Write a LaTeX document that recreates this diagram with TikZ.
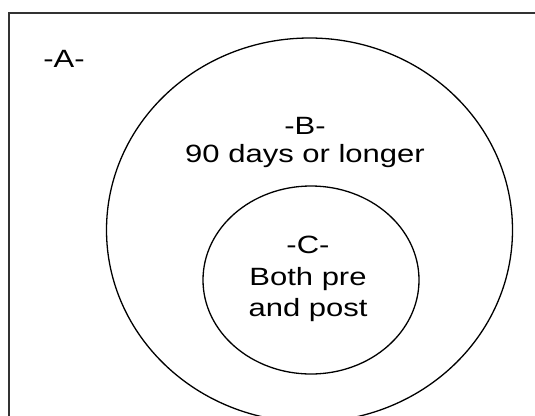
\documentclass[tikz,border=0pt]{standalone}
\usepackage{fontspec}
\setmainfont{Liberation Sans}
\usetikzlibrary{shapes}
\usetikzlibrary{positioning}

\begin{document}
\begin{tikzpicture}[x=1pt,y=-1pt,
  setline/.style={draw=black, line width=1.3pt},
  setlabel/.style={xscale=1.24, align=center, inner sep=0pt}]
\useasboundingbox (0,0) rectangle (535,415);
\clip (0,0) rectangle (535,415);
\draw[draw=black!80, line width=1.6pt] (8.7,12.7) rectangle (560,440);
\node[ellipse, setline, minimum width=406, minimum height=384] (setb) at (309.5,230) {};
\node[ellipse, setline, minimum width=216, minimum height=188] (setc) at (311,280) {};
\node[setlabel, anchor=base, font=\fontsize{25}{30}\selectfont] (a) at (64,67.7) {-A-};
\node[setlabel, anchor=base, font=\fontsize{25}{28.4}\selectfont] (b) at (305,162.7) {-B-\\90 days or longer};
\node[setlabel, anchor=base, font=\fontsize{25}{31.7}\selectfont] (c) at (308,316.7) {-C-\\Both pre\\and post};
\end{tikzpicture}
\end{document}
